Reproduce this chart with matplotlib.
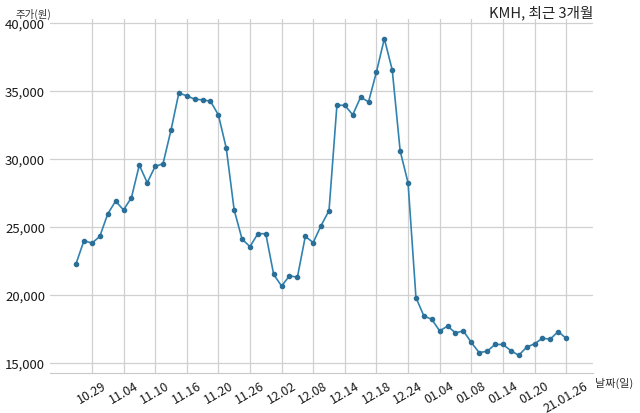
import matplotlib
matplotlib.use('Agg')
import matplotlib.pyplot as plt
from matplotlib.ticker import FuncFormatter

plt.rcParams['font.family'] = ['Noto Sans CJK KR', 'DejaVu Sans']

dates = ['10.27', '10.28', '10.29', '10.30',
         '11.02', '11.03', '11.04', '11.05', '11.06',
         '11.09', '11.10', '11.11', '11.12', '11.13',
         '11.16', '11.17', '11.18', '11.19', '11.20',
         '11.23', '11.24', '11.25', '11.26', '11.27',
         '11.30', '12.01', '12.02', '12.03', '12.04',
         '12.07', '12.08', '12.09', '12.10', '12.11',
         '12.14', '12.15', '12.16', '12.17', '12.18',
         '12.21', '12.22', '12.23', '12.24',
         '12.28', '12.29', '12.30',
         '01.04', '01.05', '01.06', '01.07', '01.08',
         '01.11', '01.12', '01.13', '01.14', '01.15',
         '01.18', '01.19', '01.20', '01.21', '01.22',
         '01.25', '21.01.26']

prices = [22300, 24000, 23800, 24300,
          25950, 26900, 26250, 27150, 29550,
          28250, 29450, 29650, 32100, 34850,
          34650, 34400, 34350, 34250, 33250,
          30800, 26250, 24100, 23550, 24500,
          24500, 21500, 20650, 21400, 21300,
          24300, 23850, 25100, 26200, 33950,
          33950, 33250, 34550, 34200, 36400,
          38850, 36550, 30600, 28250,
          19800, 18450, 18200,
          17350, 17700, 17200, 17350, 16500,
          15750, 15850, 16350, 16350, 15900,
          15550, 16150, 16400, 16800, 16750,
          17300, 16800]

tick_idx = list(range(2, len(dates), 4))

fig = plt.figure(figsize=(6.4, 4.14), dpi=100)
ax = fig.add_axes([50 / 640, 40 / 414, 543 / 640, 354 / 414])

x = list(range(len(dates)))
ax.plot(x, prices, color='#3083b0', linewidth=1.2, marker='o',
        markersize=3.0, markerfacecolor='#2b6f98', markeredgecolor='#2b6f98')

ax.set_xlim(-3.3, 65.4)
ax.set_ylim(14250, 40300)
ax.set_yticks([15000, 20000, 25000, 30000, 35000, 40000])
ax.yaxis.set_major_formatter(FuncFormatter(lambda v, p: f'{int(v):,}'))
ax.set_xticks(tick_idx)
ax.set_xticklabels([dates[i] for i in tick_idx], rotation=30, ha='center')

ax.grid(True, color='#d0d0d0', linewidth=0.9)
ax.set_axisbelow(True)
for s in ['top', 'right', 'left']:
    ax.spines[s].set_visible(False)
ax.spines['bottom'].set_color('#c8c8c8')
ax.tick_params(axis='both', length=0, labelsize=9.5, colors='#1a1a1a')
ax.tick_params(axis='x', pad=4, labelsize=9)

ax.set_title('KMH, 최근 3개월', loc='right', fontsize=10.5, color='#222222', pad=1)
fig.text(33 / 640, 1 - 14 / 414, '주가(원)', fontsize=7.5, color='#333333',
         ha='center', va='center')
fig.text(614 / 640, 1 - 383 / 414, '날짜(일)', fontsize=8, color='#333333',
         ha='center', va='center')

fig.savefig('out.png', dpi=100)
